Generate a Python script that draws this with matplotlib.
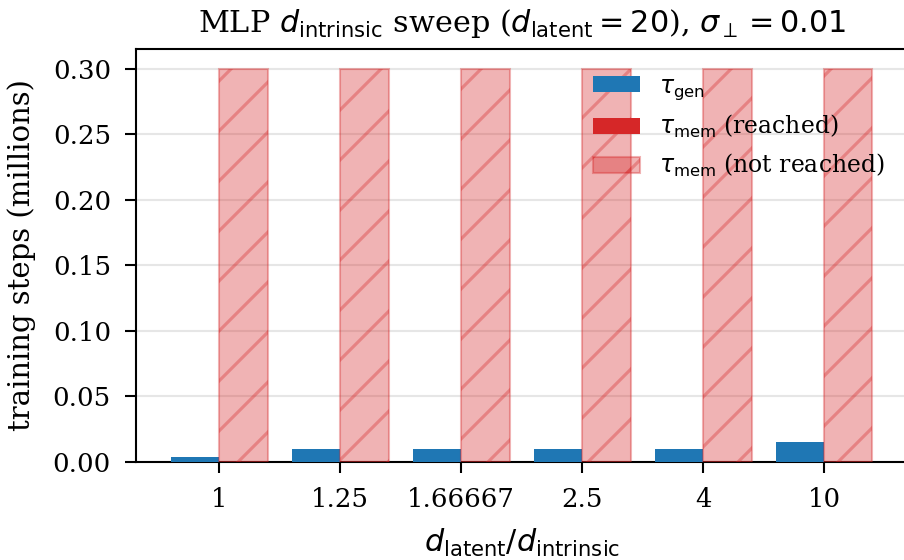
import matplotlib
matplotlib.use("Agg")
import matplotlib.pyplot as plt
import numpy as np
from matplotlib.patches import Patch

categories = ["1", "1.25", "1.66667", "2.5", "4", "10"]
tau_gen = [0.004, 0.010, 0.010, 0.010, 0.010, 0.015]
tau_mem_not_reached = [0.30, 0.30, 0.30, 0.30, 0.30, 0.30]

plt.rcParams["font.family"] = ["DejaVu Serif"]
plt.rcParams["mathtext.fontset"] = "dejavusans"
plt.rcParams["hatch.linewidth"] = 1.5

fig = plt.figure(figsize=(904 / 150, 560 / 150), dpi=150)
ax = fig.add_axes([136 / 904, (560 - 462) / 560, (907.5 - 136) / 904, (462 - 49) / 560])

x = np.arange(len(categories))
w = 0.4
ax.bar(x - w / 2, tau_gen, width=w, color="tab:blue", zorder=3)
ax.bar(x + w / 2, tau_mem_not_reached, width=w, color="tab:red", alpha=0.35,
       hatch="/", edgecolor="tab:red", linewidth=1.0, zorder=3)

ax.set_xticks(x)
ax.set_xticklabels(categories)
ax.set_xlim(-0.69, 5.69)
ax.set_ylim(0, 0.315)
ax.set_yticks([0.0, 0.05, 0.10, 0.15, 0.20, 0.25, 0.30])
ax.set_yticklabels(["0.00", "0.05", "0.10", "0.15", "0.20", "0.25", "0.30"])
ax.tick_params(axis="both", labelsize=12.5, length=5.5, width=1.0, direction="out", pad=6.5)
ax.yaxis.grid(True, color="#e6e6e6", linewidth=1.0, zorder=0)
ax.set_axisbelow(True)
for s in ax.spines.values():
    s.set_linewidth(1.0)
    s.set_color("black")

ax.set_xlabel(r"$d_{\mathrm{latent}}/d_{\mathrm{intrinsic}}$", fontsize=14.5, labelpad=7)
ax.set_ylabel("training steps (millions)", fontsize=14, labelpad=8)
ax.set_title(r"MLP $d_{\mathrm{intrinsic}}$ sweep ($d_{\mathrm{latent}}=20$), $\sigma_\perp=0.01$",
             fontsize=14.5, pad=8)

handles = [
    Patch(facecolor="tab:blue", label=r"$\tau_{\mathrm{gen}}$"),
    Patch(facecolor="tab:red", label=r"$\tau_{\mathrm{mem}}$ (reached)"),
    Patch(facecolor="tab:red", edgecolor="tab:red", alpha=0.35, hatch="/",
          label=r"$\tau_{\mathrm{mem}}$ (not reached)"),
]
ax.legend(handles=handles, loc="upper left", bbox_to_anchor=(0.565, 0.99),
          frameon=False, fontsize=11.3)

fig.savefig("out.png", dpi=150)
